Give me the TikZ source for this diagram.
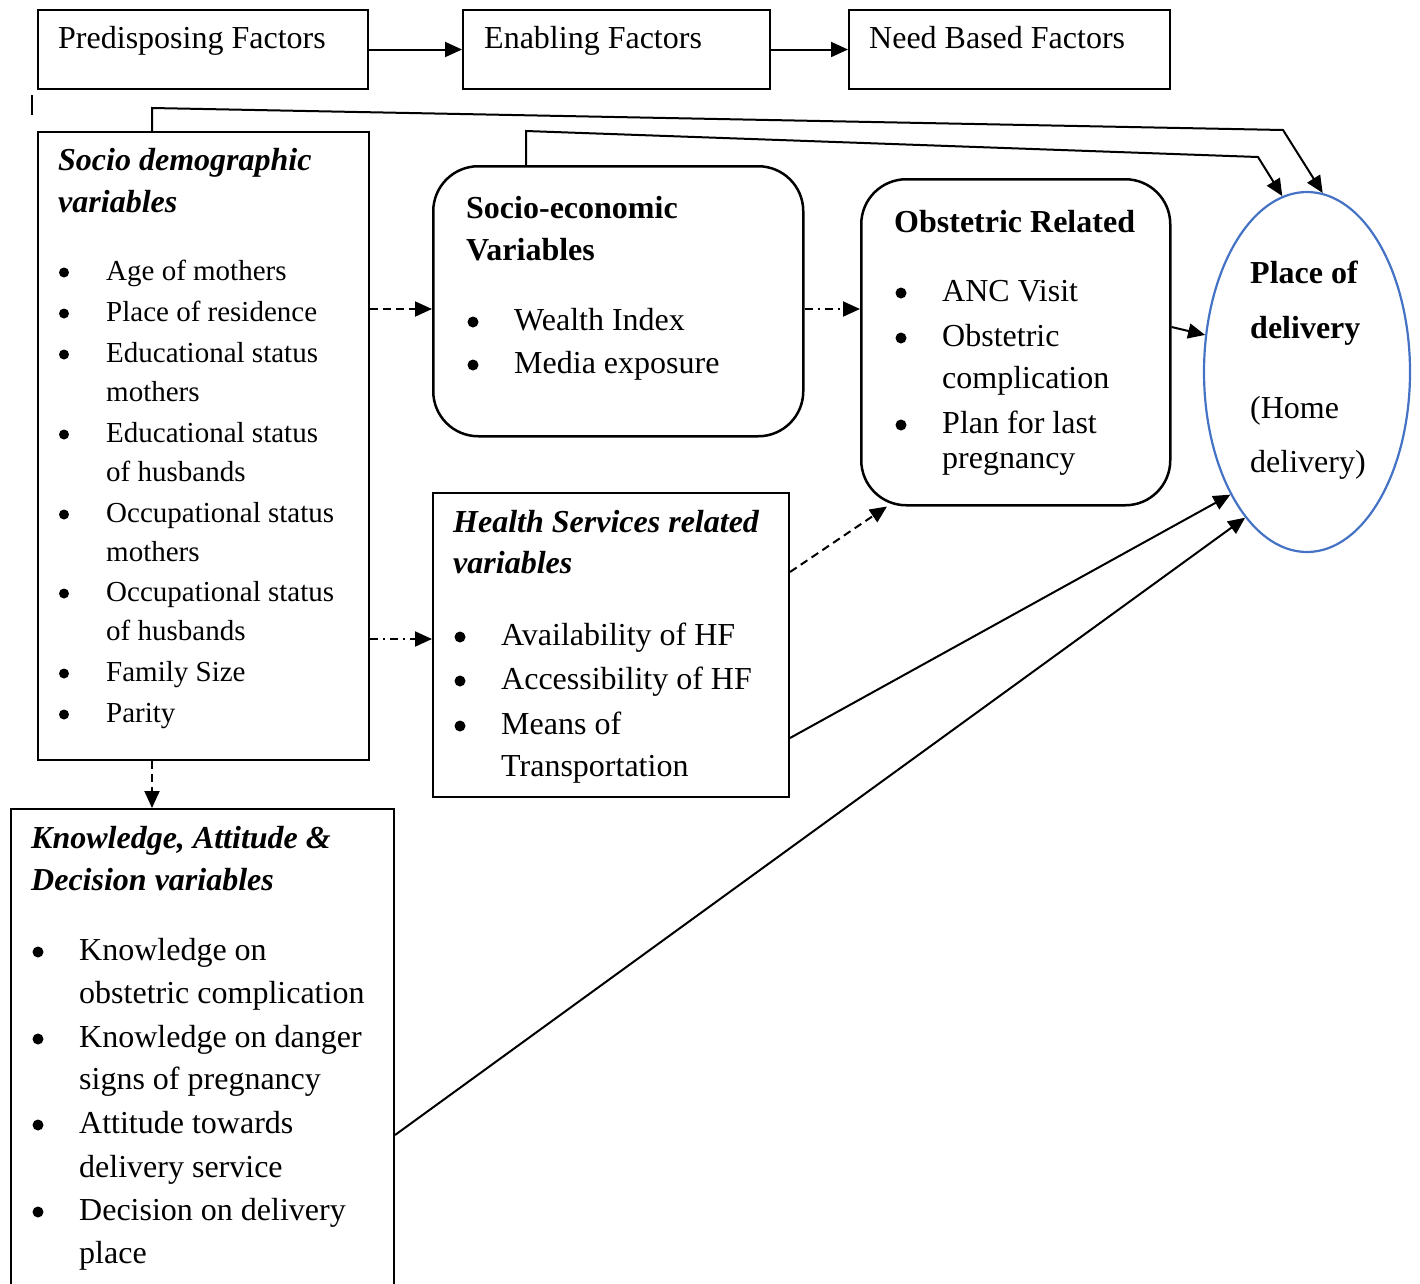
\documentclass[tikz,border=0pt]{standalone}
\usepackage{fontspec}
\setmainfont{Liberation Serif}
\usetikzlibrary{arrows.meta,shapes.geometric,calc}
\definecolor{ellblue}{RGB}{68,114,196}
\begin{document}
\begin{tikzpicture}[x=1pt,y=-1pt,
  box/.style={draw, line width=2pt, anchor=north west, inner sep=0pt, rectangle},
  rbox/.style={box, rounded corners=45pt, line width=2.5pt},
  tx/.style={anchor=base west, inner sep=0pt, font=\fontsize{32}{38}\selectfont},
  sm/.style={anchor=base west, inner sep=0pt, font=\fontsize{29}{35}\selectfont},
  bh/.style={anchor=base west, inner sep=0pt, font=\fontsize{32}{38}\selectfont\bfseries},
  bi/.style={anchor=base west, inner sep=0pt, font=\fontsize{32}{38}\selectfont\bfseries\itshape},
  bul/.style={circle, fill=black, inner sep=0pt, minimum size=11pt, yshift=8pt},
  sbul/.style={circle, fill=black, inner sep=0pt, minimum size=10pt, yshift=7.5pt},
  arr/.style={line width=2pt, -{Triangle[length=17pt,width=15pt]}},
  dsh/.style={arr, dash pattern=on 8pt off 5pt},
  dshdot/.style={arr, dash pattern=on 8pt off 5pt on 2pt off 5pt}]
\useasboundingbox (0,0) rectangle (1420,1283);
\clip (0,0) rectangle (1420,1283);

% boxes
\node[box, minimum width=330pt, minimum height=79pt] (pre) at (37,9) {};
\node[box, minimum width=307pt, minimum height=79pt] (ena) at (462,9) {};
\node[box, minimum width=321pt, minimum height=79pt] (need) at (848,9) {};
\node[box, minimum width=331pt, minimum height=628pt] (sd) at (37,131) {};
\node[rbox, minimum width=370pt, minimum height=270pt] (se) at (432,165) {};
\node[rbox, minimum width=309pt, minimum height=326pt] (obst) at (860,178) {};
\node[box, minimum width=356pt, minimum height=304pt] (hs) at (432,492) {};
\node[box, minimum width=383pt, minimum height=520pt] (kn) at (10,808) {};
\node[draw=ellblue, ellipse, line width=2.2pt, minimum width=206pt, minimum height=360pt, inner sep=0pt] (pod) at (1307,372) {};

% top texts
\node[tx] (tpre) at (58,48) {Predisposing Factors};
\node[tx] (tena) at (484,48) {Enabling Factors};
\node[tx] (tneed) at (869,48) {Need Based Factors};

% socio demographic
\node[bi] (sdh1) at (58,170) {Socio demographic};
\node[bi] (sdh2) at (58,212) {variables};
\node[sm] (sd1) at (106,280) {Age of mothers};
\node[sm] (sd2) at (106,321) {Place of residence};
\node[sm] (sd3) at (106,362) {Educational status};
\node[sm] (sd3b) at (106,401) {mothers};
\node[sm] (sd4) at (106,442) {Educational status};
\node[sm] (sd4b) at (106,481) {of husbands};
\node[sm] (sd5) at (106,522) {Occupational status};
\node[sm] (sd5b) at (106,561) {mothers};
\node[sm] (sd6) at (106,601) {Occupational status};
\node[sm] (sd6b) at (106,640) {of husbands};
\node[sm] (sd7) at (106,681) {Family Size};
\node[sm] (sd8) at (106,722) {Parity};
\foreach \yy [count=\i] in {280,321,362,442,522,601,681,722}
  \node[sbul] (sdb\i) at (64,\yy) {};

% socio-economic
\node[bh] (seh1) at (466,218) {Socio-economic};
\node[bh] (seh2) at (466,260) {Variables};
\node[tx] (se1) at (514,330) {Wealth Index};
\node[tx] (se2) at (514,373) {Media exposure};
\foreach \yy [count=\i] in {330,373}
  \node[bul] (seb\i) at (473,\yy) {};

% obstetric
\node[bh] (obh) at (894,232) {Obstetric Related};
\node[tx] (ob1) at (942,301) {ANC Visit};
\node[tx] (ob2) at (942,346) {Obstetric};
\node[tx] (ob2b) at (942,388) {complication};
\node[tx] (ob3) at (942,433) {Plan for last};
\node[tx] (ob3b) at (942,468) {pregnancy};
\foreach \yy [count=\i] in {301,346,433}
  \node[bul] (obb\i) at (901,\yy) {};

% place of delivery
\node[bh] (p1) at (1250,283) {Place of};
\node[bh] (p2) at (1250,338) {delivery};
\node[tx] (p3) at (1250,418) {(Home};
\node[tx] (p4) at (1250,472) {delivery)};

% health services
\node[bi] (hsh1) at (453,532) {Health Services related};
\node[bi] (hsh2) at (453,573) {variables};
\node[tx] (hs1) at (501,645) {Availability of HF};
\node[tx] (hs2) at (501,689) {Accessibility of HF};
\node[tx] (hs3) at (501,734) {Means of};
\node[tx] (hs3b) at (501,776) {Transportation};
\foreach \yy [count=\i] in {645,689,734}
  \node[bul] (hsb\i) at (460,\yy) {};

% knowledge
\node[bi] (knh1) at (31,848) {Knowledge, Attitude \&};
\node[bi] (knh2) at (31,890) {Decision variables};
\node[tx] (kn1) at (79,960) {Knowledge on};
\node[tx] (kn1b) at (79,1003) {obstetric complication};
\node[tx] (kn2) at (79,1047) {Knowledge on danger};
\node[tx] (kn2b) at (79,1089) {signs of pregnancy};
\node[tx] (kn3) at (79,1133) {Attitude towards};
\node[tx] (kn3b) at (79,1177) {delivery service};
\node[tx] (kn4) at (79,1220) {Decision on delivery};
\node[tx] (kn4b) at (79,1263) {place};
\foreach \yy [count=\i] in {960,1047,1133,1220}
  \node[bul] (knb\i) at (38,\yy) {};

% connectors
\draw[arr] (pre) -- (ena);
\draw[arr] (ena) -- (need);
\draw[line width=1.8pt] (32,95) -- (32,115);

\coordinate (c1) at (152,108);
\coordinate (c2) at (1283,130);
\draw[arr] ($(sd.north west)+(115,0)$) -- (c1) -- (c2) -- (pod.85);
\coordinate (c3) at (526,131);
\coordinate (c4) at (1258,157);
\draw[arr] ($(se.north west)+(94,0)$) -- (c3) -- (c4) -- (pod.98);

\draw[arr] ($(obst.north east)+(0,149)$) -- (pod.160);
\draw[dsh] ($(sd.north east)+(0,178)$) -- ($(se.north west)+(0,144)$);
\draw[dshdot] ($(sd.north east)+(0,508)$) -- ($(hs.north west)+(0,147)$);
\draw[dshdot] ($(se.north east)+(0,144)$) -- ($(obst.north west)+(0,131)$);
\draw[dsh] ($(hs.north east)+(0,80)$) -- ($(obst.south west)+(27,0)$);
\draw[arr] ($(hs.north east)+(0,246)$) -- (pod.238);
\draw[arr] ($(kn.north east)+(0,327)$) -- (pod.247);
\draw[dsh] ($(sd.south west)+(115,0)$) -- ($(kn.north west)+(142,0)$);
\end{tikzpicture}
\end{document}
